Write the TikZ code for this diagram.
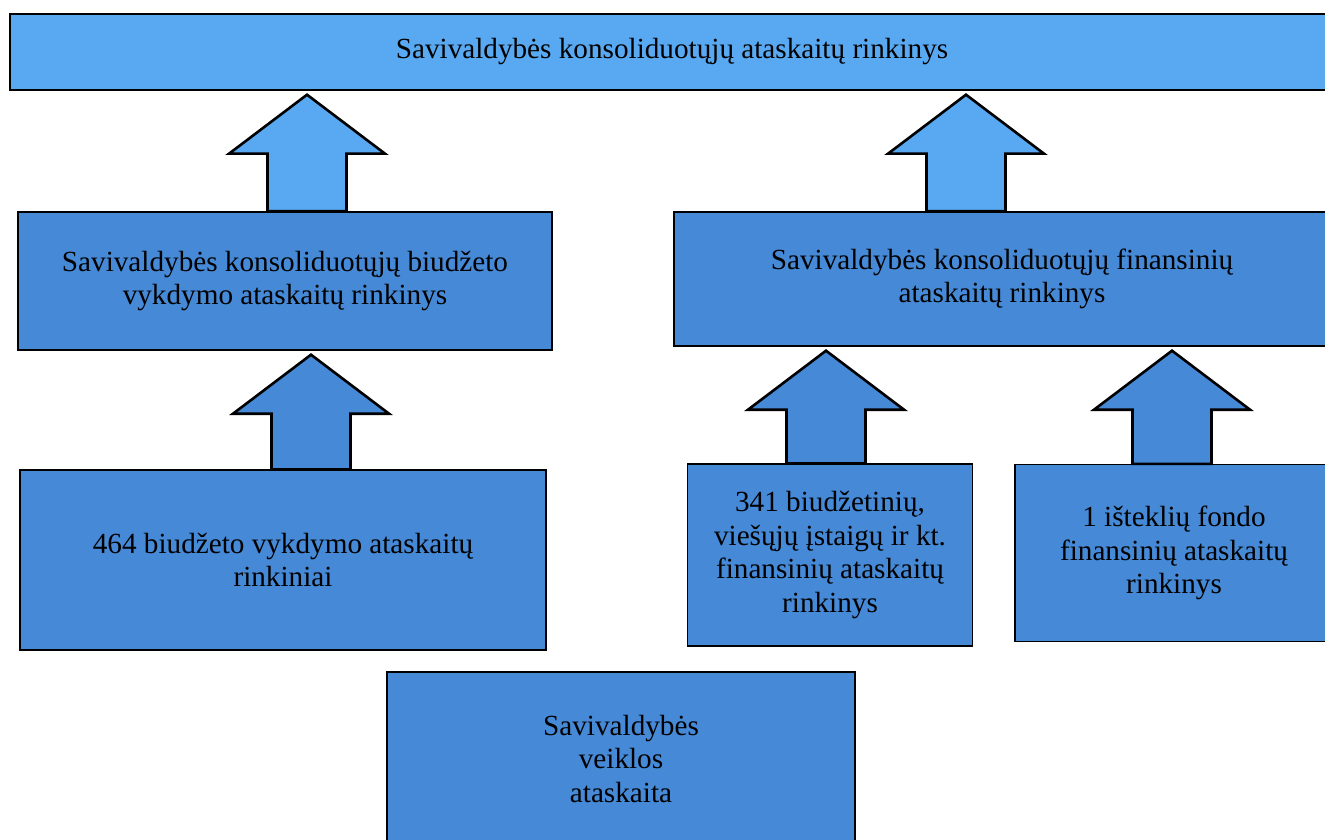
\documentclass[tikz,border=0pt]{standalone}
\usepackage{fontspec}
\setmainfont{Liberation Serif}
\usetikzlibrary{calc}
\definecolor{lightblue}{RGB}{88,169,242}
\definecolor{darkblue}{RGB}{69,137,215}
\tikzset{
  box/.style={draw=black, line width=0.7pt, inner sep=0pt, align=center,
    font=\fontsize{14.6}{16.8}\selectfont},
  upper/.style={box, fill=lightblue},
  lower/.style={box, fill=darkblue},
}
% block arrow: colour, x, lower node, upper node
\newcommand{\blockarrow}[4]{%
  \path[draw=black, line width=1.3pt, line join=miter, fill=#1]
    ($(#2,0 |- #4.south)+(0,4)$) coordinate (tip)
    -- ++(78,59) -- ++(-38.5,0) -- (#2+39.5,0 |- #3.north)
    -- (#2-39.5,0 |- #3.north) -- ($(tip)+(-39.5,59)$) -- ++(-38.5,0) -- cycle;
}
\begin{document}
\begin{tikzpicture}[x=0.5pt, y=-0.5pt]
\useasboundingbox (0,0) rectangle (1325,839);
\node[upper, minimum width=662pt, minimum height=38pt] (top) at (672,52) {Savivaldybės konsoliduotųjų ataskaitų rinkinys};
\node[lower, minimum width=267pt, minimum height=69pt] (budget) at (285,281) {Savivaldybės konsoliduotųjų biudžeto\\vykdymo ataskaitų rinkinys};
\node[lower, minimum width=328pt, minimum height=67pt] (fin) at (1002,279) {Savivaldybės konsoliduotųjų finansinių\\ataskaitų rinkinys};
\node[lower, minimum width=263pt, minimum height=90pt] (exec) at (283,560) {464 biudžeto vykdymo ataskaitų\\rinkiniai};
\node[lower, minimum width=142.5pt, minimum height=91pt] (inst) at (830,555) {341 biudžetinių,\\viešųjų įstaigų ir kt.\\finansinių ataskaitų\\rinkinys};
\node[lower, minimum width=159pt, minimum height=88.5pt] (fund) at (1174,553) {1 išteklių fondo\\finansinių ataskaitų\\rinkinys};
\node[lower, line width=1.2pt, minimum width=234pt, minimum height=87pt] (activity) at (621,759) {Savivaldybės\\veiklos\\ataskaita};

\blockarrow{lightblue}{307}{budget}{top}
\blockarrow{lightblue}{966}{fin}{top}
\blockarrow{darkblue}{311}{exec}{budget}
\blockarrow{darkblue}{826}{inst}{fin}
\blockarrow{darkblue}{1172}{fund}{fin}
\end{tikzpicture}
\end{document}
